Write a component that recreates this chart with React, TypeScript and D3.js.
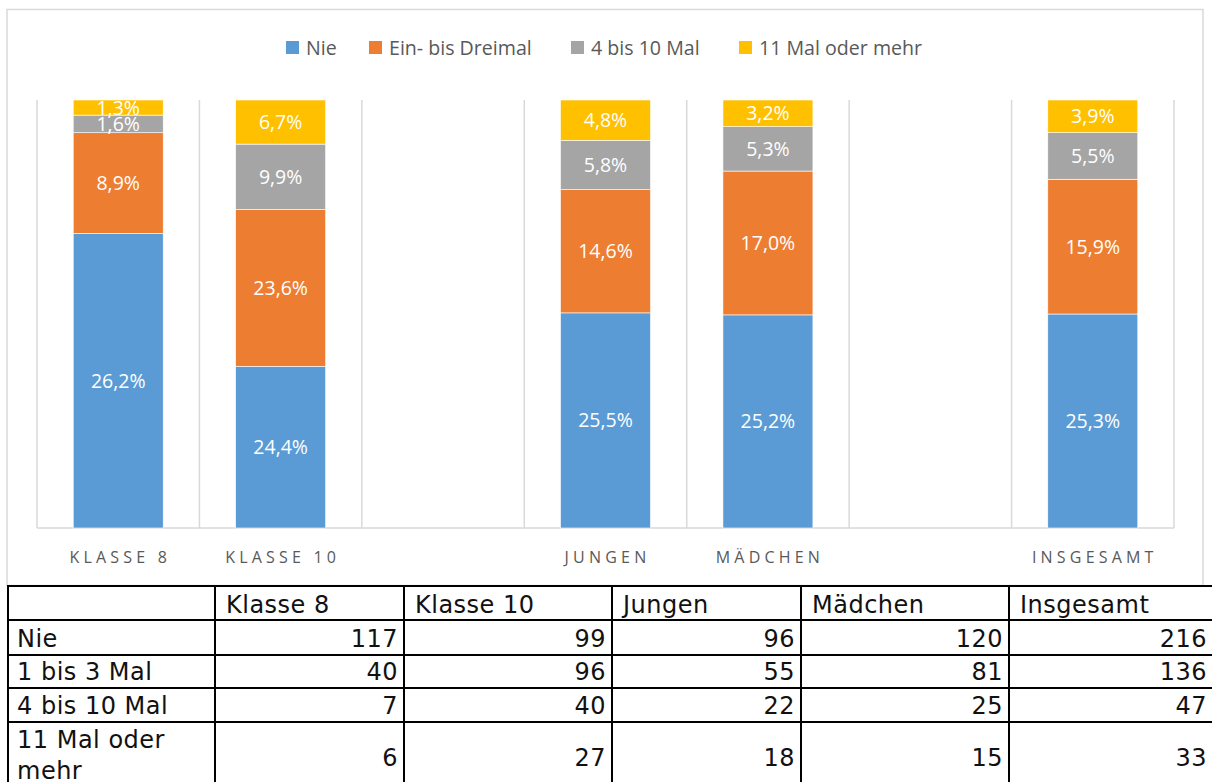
import React from "react";
import * as d3 from "d3";

const slots = ["Klasse 8", "Klasse 10", "gap1", "Jungen", "Mädchen", "gap2", "Insgesamt"];
const categories = ["Klasse 8", "Klasse 10", "Jungen", "Mädchen", "Insgesamt"];
const seriesNames = ["Nie", "Ein- bis Dreimal", "4 bis 10 Mal", "11 Mal oder mehr"];
const seriesColors = ["#5b9bd5", "#ed7d31", "#a5a5a5", "#ffc000"];
const nie = [117, 99, 96, 120, 216];
const einBisDrei = [40, 96, 55, 81, 136];
const vierBisZehn = [7, 40, 22, 25, 47];
const elfPlus = [6, 27, 18, 15, 33];
const labelNie = ["26,2%", "24,4%", "25,5%", "25,2%", "25,3%"];
const labelEin = ["8,9%", "23,6%", "14,6%", "17,0%", "15,9%"];
const labelVier = ["1,6%", "9,9%", "5,8%", "5,3%", "5,5%"];
const labelElf = ["1,3%", "6,7%", "4,8%", "3,2%", "3,9%"];
const tableRows = ["Nie", "1 bis 3 Mal", "4 bis 10 Mal", "11 Mal oder mehr"];

const seriesValues = [nie, einBisDrei, vierBisZehn, elfPlus];
const seriesLabels = [labelNie, labelEin, labelVier, labelElf];

export default function App() {
  const left = 37, right = 1174, top = 100, bottom = 528;
  const x = d3.scaleBand<string>().domain(slots).range([left, right]).paddingInner(0.446).paddingOuter(0.223);
  const y = d3.scaleLinear().domain([0, 1]).range([bottom, top]);
  const step = x.step();
  const gap = step * x.paddingInner();

  const rows = categories.map((c, i) => {
    const r: any = { cat: c };
    seriesNames.forEach((s, k) => (r[s] = seriesValues[k][i]));
    return r;
  });
  const stack = d3.stack<any>().keys(seriesNames).offset(d3.stackOffsetExpand);
  const layers = stack(rows);

  const gridXs = slots.map((s) => (x(s) as number) - gap / 2).concat([right]);

  const legendX = [286, 369, 571, 739];

  const font = "'Open Sans', 'Noto Sans', sans-serif";
  const tFont = "'DejaVu Sans', sans-serif";

  const colX = [8, 215, 404, 612, 801, 1009, 1213];
  const rowY = [586, 620, 655, 688, 722, 792];

  return (
    <svg width={1212} height={782} style={{ position: "absolute", left: 0, top: 0, background: "#fff" }}>
      <rect x={7} y={9.5} width={1196} height={576} fill="#fff" stroke="#d9d9d9" strokeWidth={1.5} />
      {/* legend */}
      {seriesNames.map((s, k) => (
        <g key={s}>
          <rect x={legendX[k]} y={41} width={13} height={13} fill={seriesColors[k]} />
          <text x={legendX[k] + 20} y={54.5} fontFamily={font} fontSize={19.6} fill="#595959">{s}</text>
        </g>
      ))}
      {/* gridlines */}
      {gridXs.map((gx, i) => (
        <line key={i} x1={gx} x2={gx} y1={top} y2={bottom} stroke="#d9d9d9" strokeWidth={1.5} />
      ))}
      <line x1={left} x2={right} y1={bottom} y2={bottom} stroke="#d9d9d9" strokeWidth={1.5} />
      {/* bars */}
      {layers.map((layer, k) => (
        <g key={k}>
          {layer.map((d, i) => {
            const bx = x(categories[i]) as number;
            const y0 = y(d[0]), y1 = y(d[1]);
            return (
              <g key={i}>
                <rect x={bx} y={y1} width={x.bandwidth()} height={y0 - y1} fill={seriesColors[k]} stroke="#fff" strokeWidth={0.6} />
                <text x={bx + x.bandwidth() / 2} y={(y0 + y1) / 2} dy="0.36em" textAnchor="middle" fontFamily={font} fontSize={19.5} fill="#fff">
                  {seriesLabels[k][i]}
                </text>
              </g>
            );
          })}
        </g>
      ))}
      {/* axis labels */}
      {categories.map((c) => (
        <text key={c} x={(x(c) as number) + x.bandwidth() / 2 + 2} y={563} textAnchor="middle" fontFamily={font} fontSize={16} letterSpacing={4.2} fill="#595959">
          {c.toUpperCase()}
        </text>
      ))}
      {/* table */}
      <g fontFamily={tFont} fontSize={24} letterSpacing={0.5} fill="#111">
        {rowY.map((ry, i) => (
          <line key={"h" + i} x1={colX[0] - 1} x2={colX[6]} y1={ry} y2={ry} stroke="#000" strokeWidth={2} />
        ))}
        {colX.map((cx, i) => (
          <line key={"v" + i} x1={cx} x2={cx} y1={rowY[0]} y2={rowY[5]} stroke="#000" strokeWidth={2} />
        ))}
        {categories.map((c, i) => (
          <text key={c} x={colX[i + 1] + 11} y={613}>{c}</text>
        ))}
        {tableRows.map((r, ri) => {
          const base = [647, 680, 714, 766][ri];
          return (
            <g key={r}>
              {ri < 3 ? (
                <text x={17} y={base}>{r}</text>
              ) : (
                <text x={17} y={748}>
                  <tspan x={17}>11 Mal oder</tspan>
                  <tspan x={17} y={779}>mehr</tspan>
                </text>
              )}
              {seriesValues[ri].map((v, ci) => (
                <text key={ci} x={colX[ci + 2] - 6} y={base} textAnchor="end">{v}</text>
              ))}
            </g>
          );
        })}
      </g>
    </svg>
  );
}
